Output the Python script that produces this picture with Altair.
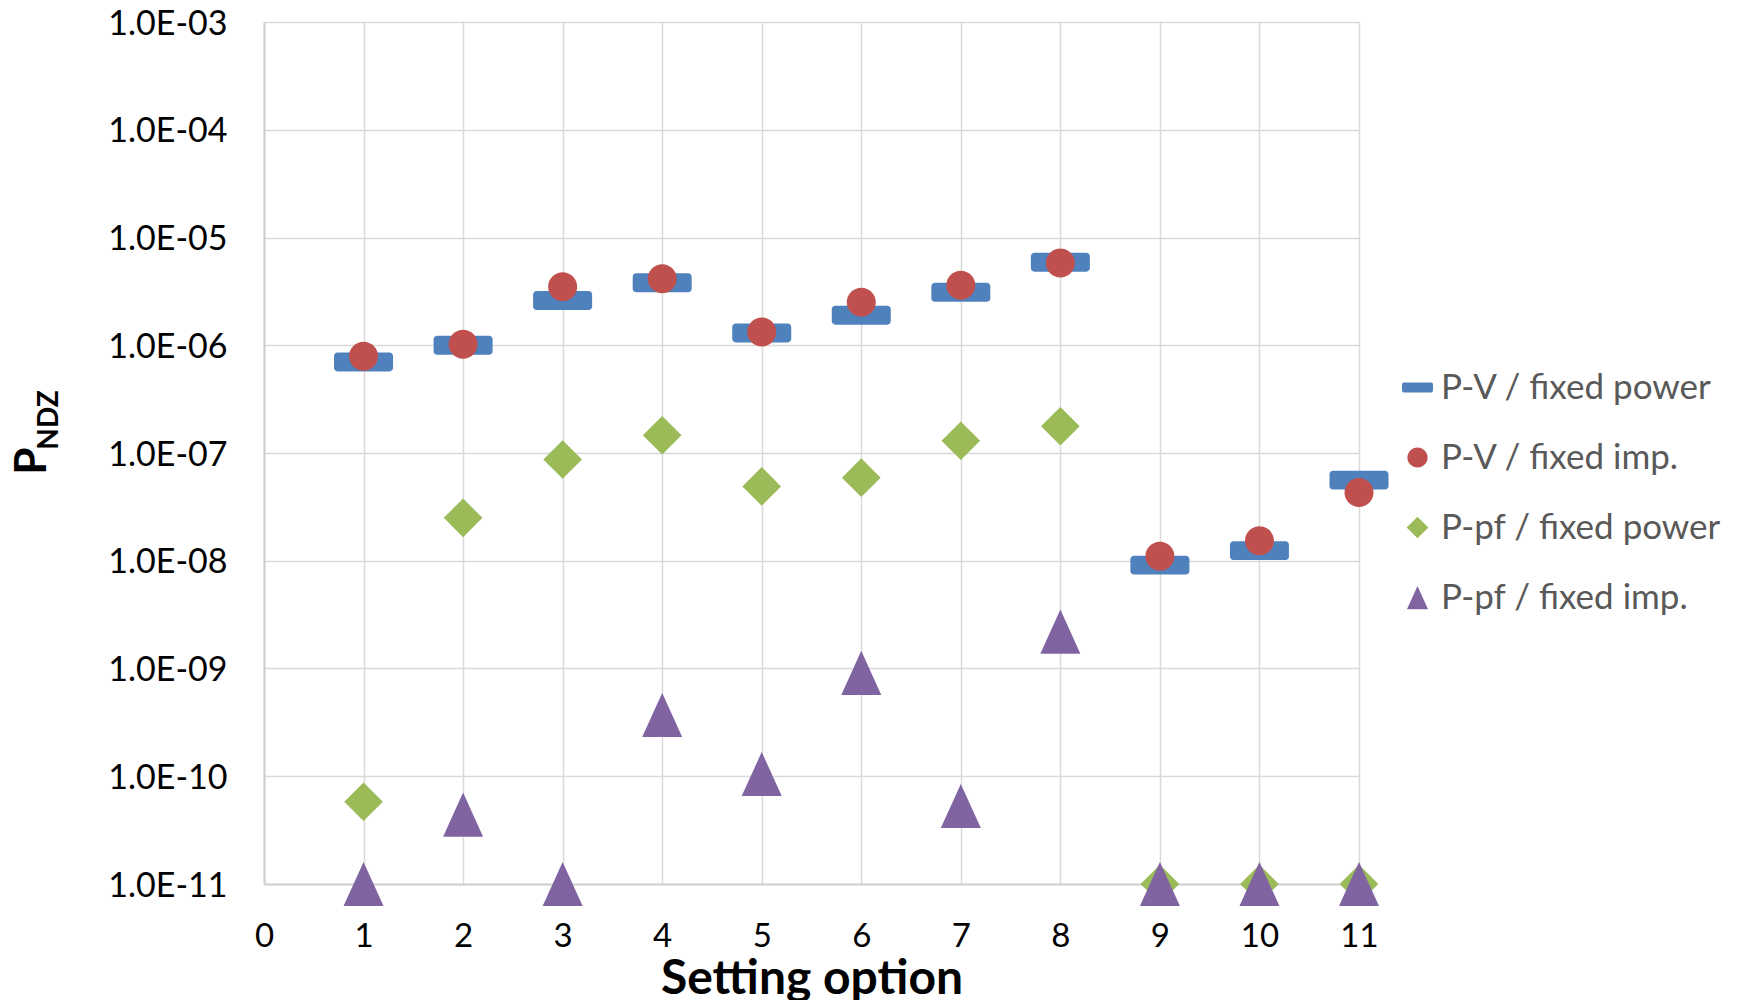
import altair as alt
import pandas as pd

# ---- data ----
options = [1, 2, 3, 4, 5, 6, 7, 8, 9, 10, 11]
series_names = ["P-V / fixed power", "P-V / fixed imp.", "P-pf / fixed power", "P-pf / fixed imp."]
pv_fixed_power = [7.0e-7, 1.0e-6, 2.6e-6, 3.8e-6, 1.3e-6, 1.9e-6, 3.1e-6, 5.9e-6, 9.1e-9, 1.24e-8, 5.6e-8]
pv_fixed_imp = [7.9e-7, 1.02e-6, 3.5e-6, 4.15e-6, 1.33e-6, 2.5e-6, 3.6e-6, 5.8e-6, 1.1e-8, 1.53e-8, 4.3e-8]
ppf_fixed_power = [5.8e-11, 2.5e-8, 8.7e-8, 1.46e-7, 4.9e-8, 5.9e-8, 1.3e-7, 1.77e-7, 1e-11, 1e-11, 1e-11]
ppf_fixed_imp = [1e-11, 4.4e-11, 1e-11, 3.7e-10, 1.05e-10, 9.1e-10, 5.3e-11, 2.2e-9, 1e-11, 1e-11, 1e-11]
y_ticks = [1e-11, 1e-10, 1e-9, 1e-8, 1e-7, 1e-6, 1e-5, 1e-4, 1e-3]
x_ticks = [0, 1, 2, 3, 4, 5, 6, 7, 8, 9, 10, 11]

colors = ["#4F81BD", "#C0504D", "#9BBB59", "#8064A2"]
shapes = [
    "M-0.88,-0.32L0.88,-0.32A0.12,0.12 0 0,1 1,-0.2L1,0.2A0.12,0.12 0 0,1 0.88,0.32"
    "L-0.88,0.32A0.12,0.12 0 0,1 -1,0.2L-1,-0.2A0.12,0.12 0 0,1 -0.88,-0.32Z",
    "M-0.65,0A0.65,0.65 0 1,0 0.65,0A0.65,0.65 0 1,0 -0.65,0Z",
    "M0,-0.7L0.7,0L0,0.7L-0.7,0Z",
    "M0,-0.75L0.68,0.75L-0.68,0.75Z",
]
sizes = [3481, 1990, 3050, 3460]

rows = []
for name, vals in zip(series_names, [pv_fixed_power, pv_fixed_imp, ppf_fixed_power, ppf_fixed_imp]):
    for o, v in zip(options, vals):
        rows.append({"option": o, "value": v, "series": name})
df = pd.DataFrame(rows)

W, H = 1095, 862
FONT = "Lato"

x_enc = alt.X("option:Q",
              scale=alt.Scale(domain=[0, 11], nice=False, zero=False),
              axis=alt.Axis(values=x_ticks, title="Setting option", grid=True, ticks=False,
                            labelFontSize=33, labelFont=FONT, labelColor="#000000", labelPadding=36,
                            labelFlush=False,
                            titleFontSize=48, titleFont=FONT, titleFontWeight="bold", titleColor="#000000",
                            titleY=109, titleBaseline="alphabetic",
                            domainColor="#d0d0d0", domainWidth=2, gridColor="#d9d9d9", gridWidth=1.5))
y_enc = alt.Y("value:Q",
              scale=alt.Scale(type="log", domain=[1e-11, 1e-3], nice=False),
              axis=alt.Axis(values=y_ticks, title=None, grid=True, ticks=False,
                            labelExpr="'1.0E-' + (round(-log(datum.value)/LN10) < 10 ? '0' : '') + round(-log(datum.value)/LN10)",
                            labelFontSize=34, labelFont=FONT, labelColor="#000000", labelPadding=37,
                            labelFlush=False, labelOffset=2,
                            domainColor="#d0d0d0", domainWidth=2, gridColor="#d9d9d9", gridWidth=1.5))
color_enc = alt.Color("series:N", scale=alt.Scale(domain=series_names, range=colors),
                      legend=alt.Legend(title=None, orient="none", legendX=1136, legendY=348,
                                        symbolSize=961, labelFontSize=35, labelFont=FONT,
                                        labelColor="#595959", rowPadding=34, labelOffset=6,
                                        symbolStrokeWidth=0, labelLimit=400))
shape_enc = alt.Shape("series:N", scale=alt.Scale(domain=series_names, range=shapes))

base = alt.Chart(df).encode(x=x_enc, y=y_enc, color=color_enc, shape=shape_enc)

layers = []
for name, s in zip(series_names, sizes):
    layers.append(
        base.transform_filter(alt.datum.series == name)
        .mark_point(filled=True, opacity=1, strokeWidth=0, size=s, clip=False)
    )

p_text = alt.Chart(pd.DataFrame({"t": ["P"]})).mark_text(
    angle=270, align="center", baseline="middle", font=FONT, fontWeight="bold", fontSize=44,
    color="#000000").encode(x=alt.value(33 - 264), y=alt.value(461 - 22), text="t:N")

ndz_text = alt.Chart(pd.DataFrame({"t": ["NDZ"]})).mark_text(
    angle=270, align="center", baseline="middle", font=FONT, fontWeight="bold", fontSize=28,
    color="#000000").encode(x=alt.value(50 - 264), y=alt.value(420 - 22), text="t:N")

chart = alt.layer(*layers, p_text, ndz_text).properties(
    width=W, height=H,
    autosize=alt.AutoSizeParams(type="none"),
    padding={"left": 256, "top": 14, "right": 364, "bottom": 116},
).configure_view(stroke=None).configure(background="white")

chart.save("out.html", embed_options={"renderer": "svg", "actions": False})
